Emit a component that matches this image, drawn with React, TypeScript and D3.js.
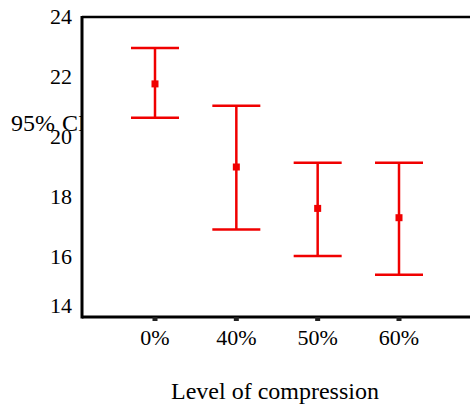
import React from 'react';
import * as d3 from 'd3';

// compression levels and 95% CI values
const levels = ['0%', '40%', '50%', '60%'];
const means = [21.77, 19.0, 17.62, 17.31];
const lowers = [20.64, 16.92, 16.03, 15.41];
const uppers = [22.97, 21.04, 19.14, 19.14];
const yTicks = [14, 16, 18, 20, 22, 24];

const width = 470;
const height = 408;
const left = 82;
const top = 17;
const bottom = 317;

const App = () => {
  const x = d3.scalePoint<string>().domain(levels).range([155, 399]);
  const y = d3.scaleLinear().domain([14, 24]).range([bottom, top]);
  const family = 'Liberation Serif, Times New Roman, serif';
  const txt = { fontFamily: family, fontSize: '22px' };
  const big = { fontFamily: family, fontSize: '24px' };
  const red = '#f00000';

  return (
    <svg
      width={width}
      height={height}
      style={{ position: 'absolute', left: 0, top: 0, background: '#fff' }}
    >
      {/* y axis title, partly hidden behind the plot area */}
      <text y={131} style={big} fill="#000">
        <tspan x={11}>95%</tspan>
        <tspan x={62}>CI</tspan>
      </text>
      <rect x={left + 1} y={top} width={width - left} height={bottom - top} fill="#fff" />

      {yTicks.map((t) => (
        <text
          key={t}
          x={72}
          y={y(t) + (t === 14 ? -4 : 7)}
          textAnchor="end"
          style={txt}
          fill="#000"
        >
          {t}
        </text>
      ))}

      {/* axis frame */}
      <line x1={left} x2={width} y1={top} y2={top} stroke="#000" strokeWidth={2.5} />
      <line x1={left} x2={width} y1={bottom} y2={bottom} stroke="#000" strokeWidth={3} />
      <line x1={left} x2={left} y1={top - 1} y2={bottom + 1.5} stroke="#000" strokeWidth={3} />

      {levels.map((l) => (
        <g key={l}>
          <rect x={(x(l) as number) - 2.5} y={bottom} width={5} height={4} fill="#222" />
          <text x={x(l)} y={345} textAnchor="middle" style={txt} fill="#000">{l}</text>
        </g>
      ))}

      {levels.map((l, i) => {
        const cx = x(l) as number;
        return (
          <g key={'e' + l} stroke={red} strokeWidth={2.5}>
            <line x1={cx} x2={cx} y1={y(uppers[i])} y2={y(lowers[i])} />
            <line x1={cx - 24} x2={cx + 24} y1={y(uppers[i])} y2={y(uppers[i])} />
            <line x1={cx - 24} x2={cx + 24} y1={y(lowers[i])} y2={y(lowers[i])} />
            <rect x={cx - 3.5} y={y(means[i]) - 3.5} width={7} height={7} fill={red} stroke="none" />
          </g>
        );
      })}

      <text x={275} y={399} textAnchor="middle" style={big} fill="#000">Level of compression</text>
    </svg>
  );
};

export default App;
